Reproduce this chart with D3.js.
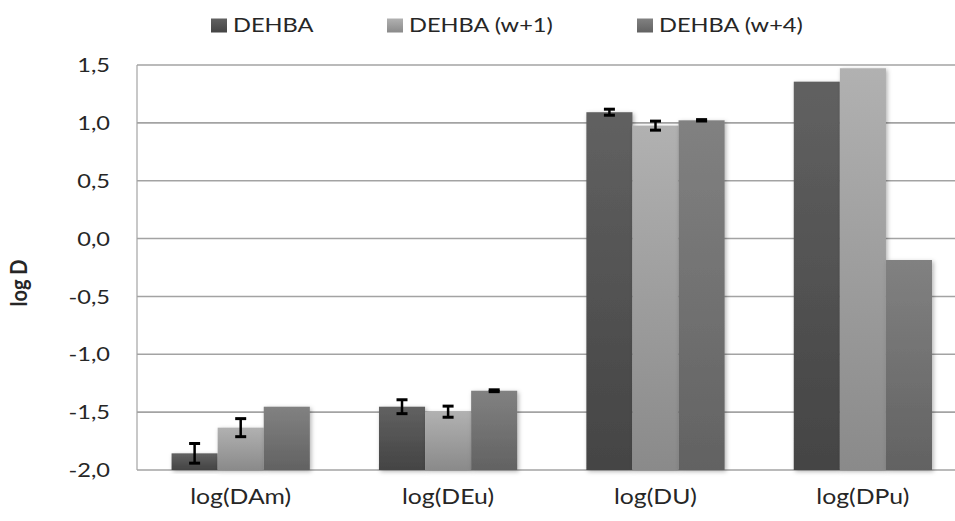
<!DOCTYPE html>
<html>
<head>
<meta charset="utf-8">
<script src="https://cdn.jsdelivr.net/npm/d3@7"></script>
<style>
  html, body { margin: 0; padding: 0; background: #fff; }
  svg { display: block; }
  text { font-family: Lato, "Open Sans", sans-serif; fill: #262626; }
</style>
</head>
<body>
<div id="chart"></div>
<script>
// ---- data ----
const categories = ["log(DAm)", "log(DEu)", "log(DU)", "log(DPu)"];
const seriesNames = ["DEHBA", "DEHBA (w+1)", "DEHBA (w+4)"];
const dehba    = [-1.856, -1.453, 1.092, 1.356];
const dehbaW1  = [-1.634, -1.496, 0.976, 1.472];
const dehbaW4  = [-1.453, -1.315, 1.022, -0.185];
const dehbaErr   = [0.085, 0.060, 0.026, 0];
const dehbaW1Err = [0.078, 0.048, 0.039, 0];
const dehbaW4Err = [0, 0.008, 0.006, 0];
const yTicks = [-2.0, -1.5, -1.0, -0.5, 0.0, 0.5, 1.0, 1.5];
const yTitle = "log D";

// ---- layout ----
const W = 955, H = 521;
const plot = { left: 137, right: 966.6, top: 65, bottom: 470 };
const sx = 1.18; // horizontal text stretch of the original picture

const seriesValues = [dehba, dehbaW1, dehbaW4];
const seriesErrors = [dehbaErr, dehbaW1Err, dehbaW4Err];
const seriesTop = ["#616161", "#b1b1b1", "#818181"];
const seriesBottom = ["#444444", "#8a8a8a", "#626262"];

const svg = d3.select("#chart").append("svg")
  .attr("width", W).attr("height", H);

const defs = svg.append("defs");
seriesNames.forEach((s, i) => {
  const g = defs.append("linearGradient").attr("id", "grad" + i)
    .attr("x1", 0).attr("y1", 0).attr("x2", 0).attr("y2", 1);
  g.append("stop").attr("offset", "0%").attr("stop-color", seriesTop[i]);
  g.append("stop").attr("offset", "100%").attr("stop-color", seriesBottom[i]);
});
const f = defs.append("filter").attr("id", "shadow")
  .attr("x", "-20%").attr("y", "-20%").attr("width", "140%").attr("height", "140%");
f.append("feDropShadow").attr("dx", 1.5).attr("dy", 1.5).attr("stdDeviation", 2)
  .attr("flood-color", "#000").attr("flood-opacity", 0.3);

const x0 = d3.scaleBand().domain(categories).range([plot.left, plot.right])
  .paddingInner(0).paddingOuter(0);
const x1 = d3.scaleBand().domain(seriesNames).range([0, x0.bandwidth()])
  .paddingInner(0).paddingOuter(0.75);
const y = d3.scaleLinear().domain([-2, 1.5]).range([plot.bottom, plot.top]);

// gridlines
svg.append("g").selectAll("line").data(yTicks).join("line")
  .attr("x1", plot.left).attr("x2", plot.right)
  .attr("y1", d => y(d)).attr("y2", d => y(d))
  .attr("stroke", "#a3a3a3").attr("stroke-width", 1.6);

// left axis line
svg.append("line")
  .attr("x1", plot.left).attr("x2", plot.left)
  .attr("y1", plot.top).attr("y2", plot.bottom)
  .attr("stroke", "#a3a3a3").attr("stroke-width", 1.2);

// y tick labels
svg.append("g").selectAll("text").data(yTicks).join("text")
  .attr("transform", d => `translate(110,${y(d)}) scale(${sx},1)`)
  .attr("text-anchor", "end").attr("dy", "0.36em")
  .attr("font-size", 20)
  .text(d => d3.format(".1f")(d).replace(".", ",").replace("−", "-"));

// y title
svg.append("text")
  .attr("transform", `translate(27,283) rotate(-90) scale(1,${sx})`)
  .attr("text-anchor", "middle")
  .attr("font-size", 20).attr("font-weight", "bold")
  .text(yTitle);

// bars
const groups = svg.append("g").selectAll("g").data(categories).join("g")
  .attr("transform", d => `translate(${x0(d)},0)`);

groups.each(function(cat, ci) {
  const g = d3.select(this);
  seriesNames.forEach((s, si) => {
    const v = seriesValues[si][ci];
    g.append("rect")
      .attr("x", x1(s)).attr("width", x1.bandwidth())
      .attr("y", y(v)).attr("height", y(-2) - y(v))
      .attr("fill", `url(#grad${si})`)
      .attr("filter", "url(#shadow)");
  });
  seriesNames.forEach((s, si) => {
    const v = seriesValues[si][ci], e = seriesErrors[si][ci];
    if (!e) return;
    const cx = x1(s) + x1.bandwidth() / 2;
    const capW = 11;
    const eg = g.append("g").attr("stroke", "#000");
    eg.append("line").attr("x1", cx).attr("x2", cx)
      .attr("y1", y(v + e)).attr("y2", y(v - e)).attr("stroke-width", 2.5);
    [v + e, v - e].forEach(t => {
      eg.append("line").attr("x1", cx - capW / 2).attr("x2", cx + capW / 2)
        .attr("y1", y(t)).attr("y2", y(t)).attr("stroke-width", 3);
    });
  });
});

// x category labels
svg.append("g").selectAll("text").data(categories).join("text")
  .attr("transform", d => `translate(${x0(d) + x0.bandwidth() / 2},504) scale(${sx},1)`)
  .attr("text-anchor", "middle")
  .attr("font-size", 21)
  .text(d => d);

// legend
const legendX = [211, 387, 637];
const lg = svg.append("g").selectAll("g").data(seriesNames).join("g")
  .attr("transform", (d, i) => `translate(${legendX[i]},0)`);
lg.append("rect").attr("x", 0).attr("y", 18.5).attr("width", 16).attr("height", 14)
  .attr("fill", (d, i) => `url(#grad${i})`);
lg.append("text")
  .attr("transform", `translate(22,32) scale(${sx},1)`)
  .attr("font-size", 20)
  .text(d => d);
</script>
</body>
</html>
